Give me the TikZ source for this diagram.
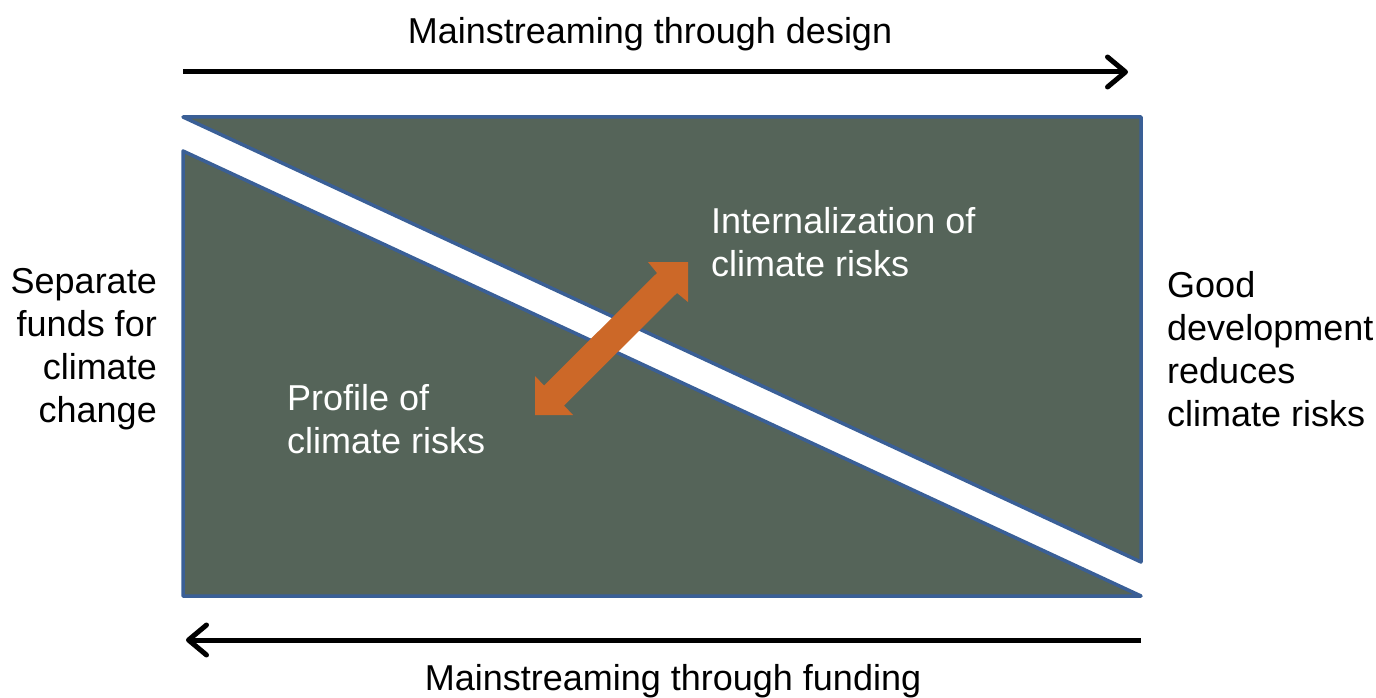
\documentclass[tikz,border=0pt]{standalone}
\usepackage{fontspec}
\setmainfont{Liberation Sans}
\usetikzlibrary{arrows.meta}
\definecolor{panelfill}{HTML}{556459}
\definecolor{paneledge}{HTML}{3A5F96}
\definecolor{linkorange}{HTML}{CC6828}
\begin{document}
\begin{tikzpicture}[x=1pt,y=-1pt,
  lbl/.style={font=\fontsize{36}{43}\selectfont, inner sep=0pt},
  panel/.style={fill=panelfill, draw=paneledge, line width=3.5pt, line join=round},
  flow/.style={line width=5pt, -{Straight Barb[length=18pt,width=30pt,round]}}]
\useasboundingbox (0,0) rectangle (1376,698);

% two triangular panels separated by a white diagonal band
\path[panel] (183,117) -- (1141,117) -- (1141,562) -- cycle;
\path[panel] (183,151) -- (183,596) -- (1141,596) -- cycle;

% two-headed block arrow across the band
\fill[linkorange] (688,262) -- (688,302) -- (677,293) -- (564,405.5) -- (573,415)
  -- (535,415) -- (535,376) -- (544,385.5) -- (657,273) -- (648,262) -- cycle;

% direction arrows
\coordinate (designL) at (183,72);
\coordinate (designR) at (1128,72);
\coordinate (fundR) at (1141,640);
\coordinate (fundL) at (186,640);
\draw[flow] (designL) -- (designR);
\draw[flow] (fundR) -- (fundL);

% labels
\node[lbl, anchor=center] (design) at (650,34) {Mainstreaming through design};
\node[lbl, anchor=center] (funding) at (673,681) {Mainstreaming through funding};
\node[lbl, anchor=east, align=right] (sep) at (157,349) {Separate\\funds for\\climate\\change};
\node[lbl, anchor=west, align=left] (good) at (1167,349) {Good\\development\\reduces\\climate risks};
\node[lbl, anchor=west, align=left, text=white] (intern) at (711,242) {Internalization of\\climate risks};
\node[lbl, anchor=west, align=left, text=white] (profile) at (287,419) {Profile of\\climate risks};
\end{tikzpicture}
\end{document}
